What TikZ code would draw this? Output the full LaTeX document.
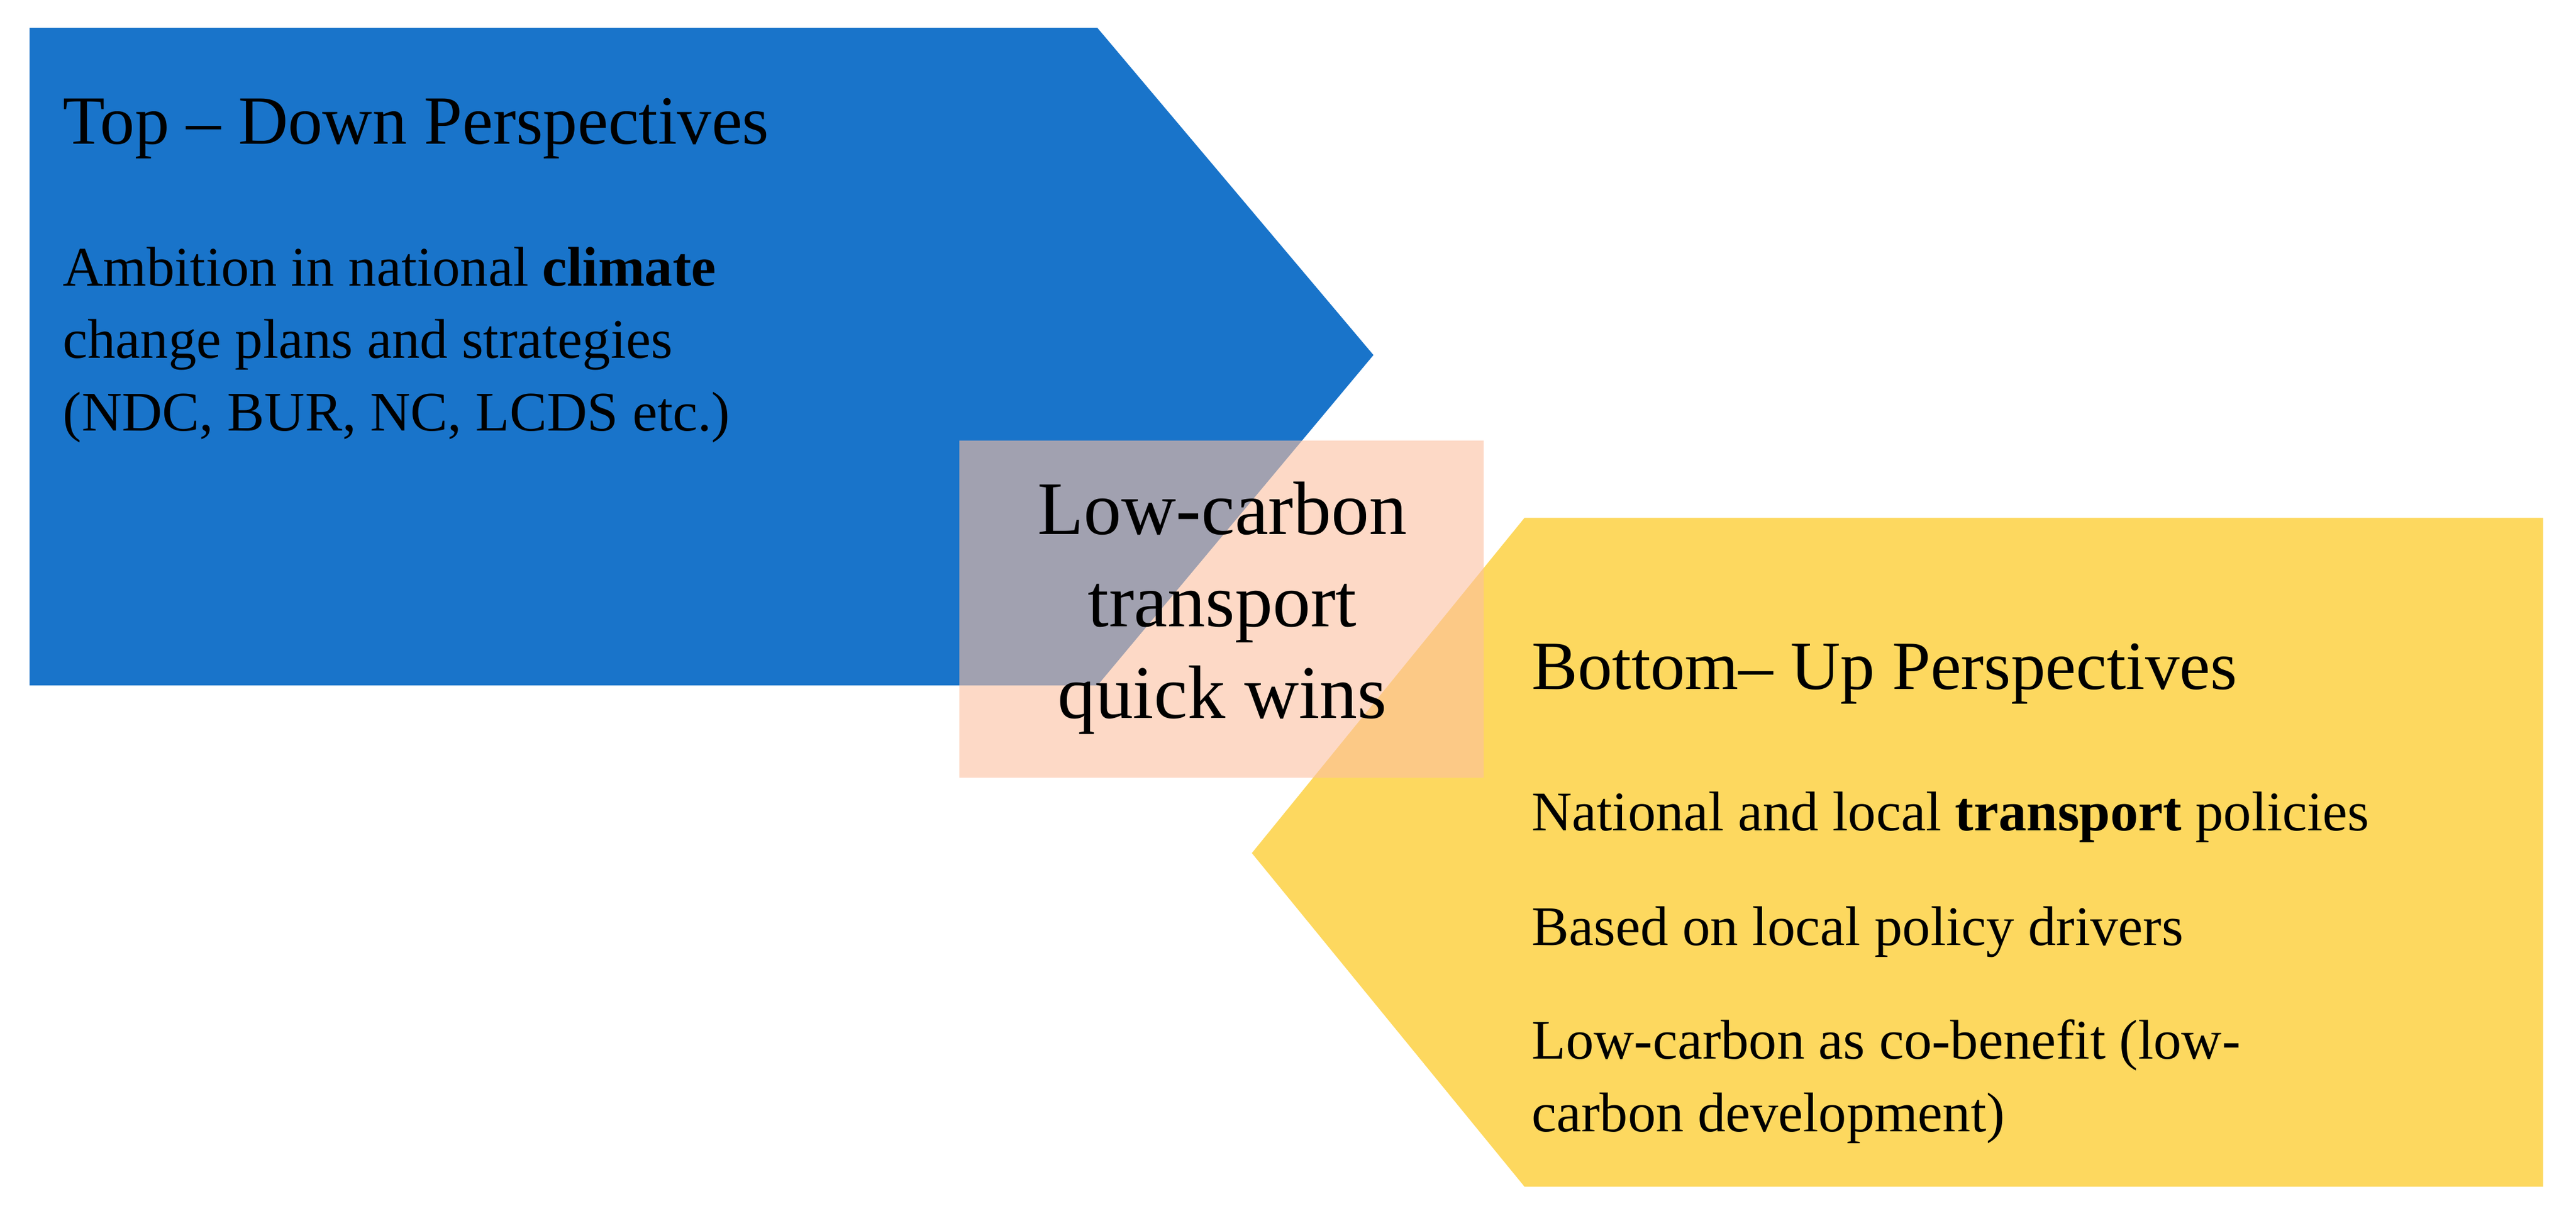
\documentclass[tikz,border=0pt]{standalone}
\usepackage{fontspec}
\setmainfont{Liberation Serif}
\begin{document}
\begin{tikzpicture}[x=0.5pt,y=-0.5pt,
  txt/.style={anchor=west,inner sep=0pt,font=\fontsize{17}{22}\selectfont},
  ttl/.style={anchor=west,inner sep=0pt,font=\fontsize{21}{25}\selectfont}]
\definecolor{bl}{RGB}{25,116,202}
\definecolor{yl}{RGB}{253,216,95}
\definecolor{pk}{RGB}{252,192,160}
\useasboundingbox (0,0) rectangle (1568,744);
\fill[bl] (18,17) -- (668,17) -- (836,216) -- (668,417) -- (18,417) -- cycle;
\fill[yl] (928,315) -- (1548,315) -- (1548,722) -- (928,722) -- (762,519) -- cycle;
\fill[pk,opacity=0.6] (584,268) rectangle (903,473);
\node[ttl] (t1) at (38,78) {Top – Down Perspectives};
\node[txt,align=left,anchor=north west] (b1) at (38,150) {Ambition in national \textbf{climate}\\change plans and strategies\\(NDC, BUR, NC, LCDS etc.)};
\node[inner sep=0pt,align=center,font=\fontsize{23}{28}\selectfont] (c) at (744,370) {Low-carbon\\transport\\quick wins};
\node[ttl] (t2) at (932,410) {Bottom– Up Perspectives};
\node[txt] (p1) at (932,497) {National and local \textbf{transport} policies};
\node[txt] (p2) at (932,567) {Based on local policy drivers};
\node[txt,align=left,anchor=north west] (p3) at (932,620) {Low-carbon as co-benefit (low-\\carbon development)};
\end{tikzpicture}
\end{document}
